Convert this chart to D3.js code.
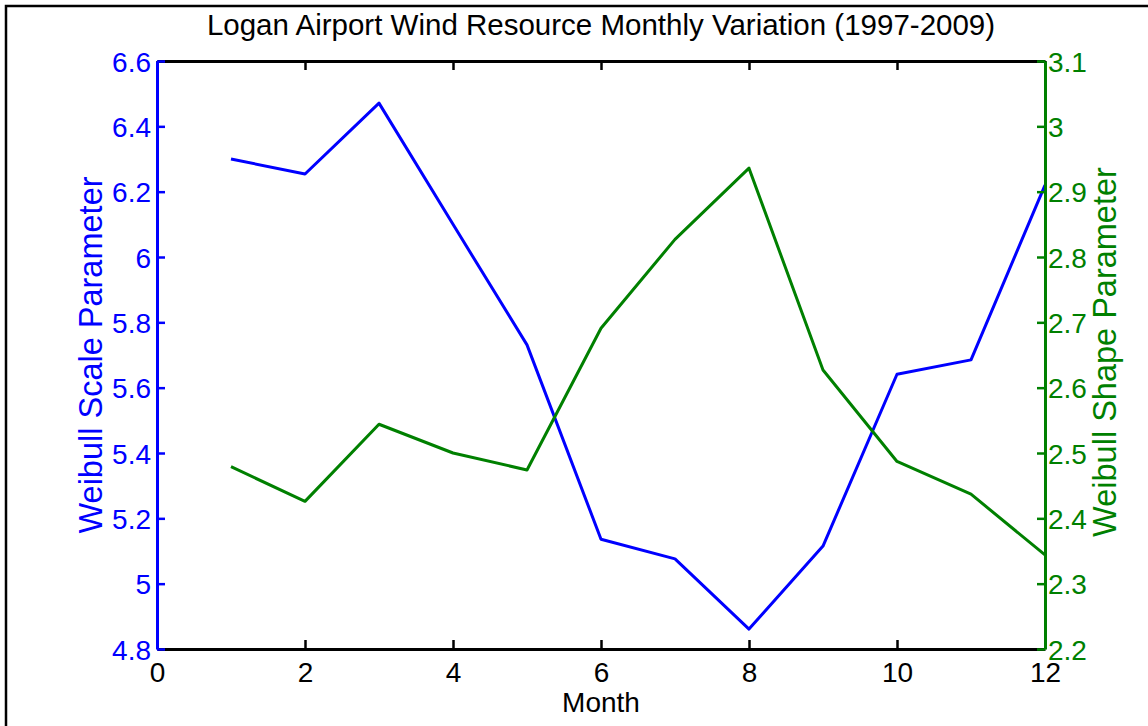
<!DOCTYPE html>
<html>
<head>
<meta charset="utf-8">
<script src="https://cdn.jsdelivr.net/npm/d3@7"></script>
<style>
  body { margin: 0; background: #fff; }
  svg { display: block; font-family: "Liberation Sans", Arial, sans-serif; }
</style>
</head>
<body>
<svg id="chart"></svg>
<script>
let months = [1,2,3,4,5,6,7,8,9,10,11,12]
let scaleParam = [6.30,6.254,6.471,6.10,5.731,5.136,5.076,4.861,5.115,5.641,5.685,6.22]
let shapeParam = [2.479,2.426,2.544,2.50,2.474,2.691,2.827,2.936,2.627,2.487,2.437,2.344]

let monthTicks = [0,2,4,6,8,10,12]
let scaleTicks = [4.8,5,5.2,5.4,5.6,5.8,6,6.2,6.4,6.6]
let shapeTicks = [2.2,2.3,2.4,2.5,2.6,2.7,2.8,2.9,3,3.1]

let width = 1148
let height = 726
let plotLeft = 157, plotRight = 1045, plotTop = 61, plotBottom = 649

let blue = '#0000ff'
let green = '#008000'

let svg = d3.select('#chart')
    .attr('width', width)
    .attr('height', height)

svg.append('rect')
    .attr('x', 0).attr('y', 0)
    .attr('width', width).attr('height', height)
    .attr('fill', '#fff')

// outer frame
svg.append('rect')
    .attr('x', 6).attr('y', 6)
    .attr('width', width + 10).attr('height', height + 10)
    .attr('fill', 'none')
    .attr('stroke', '#000')
    .attr('stroke-width', 2.5)

let xScale = d3.scaleLinear().domain([0, 12]).range([plotLeft, plotRight])
let yLeft = d3.scaleLinear().domain([4.8, 6.6]).range([plotBottom, plotTop])
let yRight = d3.scaleLinear().domain([2.2, 3.1]).range([plotBottom, plotTop])

let fmt = (d) => String(+d.toFixed(1))

let styleAxis = (g, color, size) => {
    g.select('.domain').attr('stroke', color).attr('stroke-width', 3)
    g.selectAll('.tick line').attr('stroke', color).attr('stroke-width', 2.5)
    g.selectAll('.tick text').attr('fill', color).style('font-size', size + 'px')
    g.attr('font-family', null)
}

// lines
let lineLeft = d3.line()
    .x((d, i) => xScale(months[i]))
    .y((d) => yLeft(d))

let lineRight = d3.line()
    .x((d, i) => xScale(months[i]))
    .y((d) => yRight(d))

svg.append('path')
    .datum(scaleParam)
    .attr('d', lineLeft)
    .attr('fill', 'none')
    .attr('stroke', blue)
    .attr('stroke-width', 3)
    .attr('stroke-linejoin', 'round')

svg.append('path')
    .datum(shapeParam)
    .attr('d', lineRight)
    .attr('fill', 'none')
    .attr('stroke', green)
    .attr('stroke-width', 3)
    .attr('stroke-linejoin', 'round')

// top axis (ticks only)
svg.append('g')
    .attr('transform', 'translate(0,' + plotTop + ')')
    .call(d3.axisTop(xScale).tickValues(monthTicks).tickSizeInner(-9).tickSizeOuter(0).tickFormat(''))
    .call((g) => styleAxis(g, '#000', 27))

// bottom axis
svg.append('g')
    .attr('transform', 'translate(0,' + plotBottom + ')')
    .call(d3.axisBottom(xScale).tickValues(monthTicks).tickSizeInner(-9).tickSizeOuter(0).tickPadding(13).tickFormat(fmt))
    .call((g) => styleAxis(g, '#000', 28))

// left axis
svg.append('g')
    .attr('transform', 'translate(' + plotLeft + ',0)')
    .call(d3.axisLeft(yLeft).tickValues(scaleTicks).tickSizeInner(-8).tickSizeOuter(0).tickPadding(6).tickFormat(fmt))
    .call((g) => styleAxis(g, blue, 28))
    .call((g) => g.selectAll('.tick text').attr('dy', '0.36em'))

// right axis
svg.append('g')
    .attr('transform', 'translate(' + plotRight + ',0)')
    .call(d3.axisRight(yRight).tickValues(shapeTicks).tickSizeInner(-8).tickSizeOuter(0).tickPadding(3).tickFormat(fmt))
    .call((g) => styleAxis(g, green, 28))
    .call((g) => g.selectAll('.tick text').attr('dy', '0.36em'))

// title and labels
svg.append('text')
    .attr('x', (plotLeft + plotRight) / 2)
    .attr('y', 35)
    .attr('text-anchor', 'middle')
    .style('font-size', '29.5px')
    .attr('fill', '#000')
    .text('Logan Airport Wind Resource Monthly Variation (1997-2009)')

svg.append('text')
    .attr('x', (plotLeft + plotRight) / 2)
    .attr('y', 712)
    .attr('text-anchor', 'middle')
    .style('font-size', '28px')
    .attr('fill', '#000')
    .text('Month')

svg.append('text')
    .attr('transform', 'translate(102,355) rotate(-90)')
    .attr('text-anchor', 'middle')
    .style('font-size', '32.5px')
    .attr('fill', blue)
    .text('Weibull Scale Parameter')

svg.append('text')
    .attr('transform', 'translate(1116,352) rotate(-90)')
    .attr('text-anchor', 'middle')
    .style('font-size', '32.5px')
    .attr('fill', green)
    .text('Weibull Shape Parameter')
</script>
</body>
</html>
